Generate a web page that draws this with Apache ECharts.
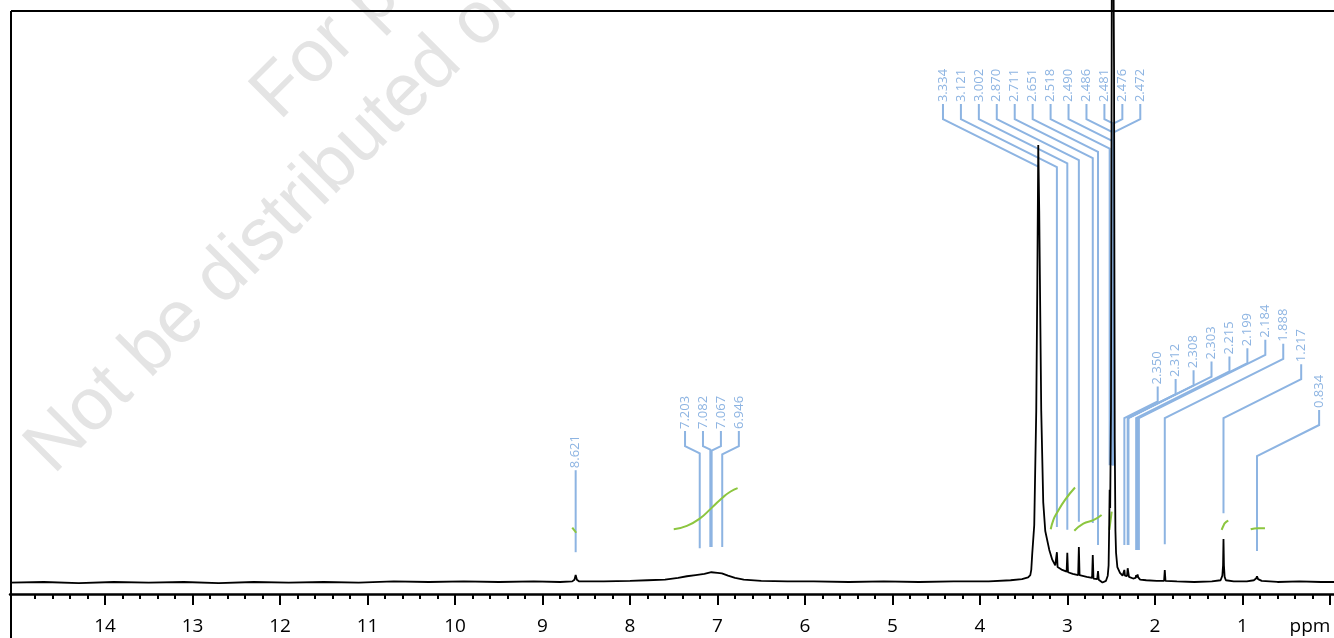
<!DOCTYPE html>
<html>
<head>
<meta charset="utf-8">
<script src="https://cdn.jsdelivr.net/npm/echarts/dist/echarts.min.js"></script>
<style>
  html, body { margin: 0; padding: 0; background: #fff; }
  #main { width: 1334px; height: 638px; }
</style>
</head>
<body>
<div id="main"></div>
<script>
const chart = echarts.init(document.getElementById('main'))

// 1H spectrum, [ppm, intensity]
const spectrum = [
  [15.086, 0.0], [14.7, 0.1], [14.3, -0.1], [13.9, 0.1], [13.5, 0.0], [13.1, 0.1], [12.7, -0.1],
  [12.3, 0.1], [11.9, 0.0], [11.5, 0.1], [11.1, 0.0], [10.7, 0.2], [10.3, 0.1], [9.9, 0.2],
  [9.5, 0.1], [9.1, 0.2], [8.8, 0.1], [8.66, 0.2], [8.635, 0.5], [8.621, 1.3], [8.607, 0.5],
  [8.58, 0.2], [8.3, 0.2], [8.0, 0.3], [7.8, 0.4], [7.6, 0.5], [7.45, 0.8], [7.35, 1.1],
  [7.25, 1.3], [7.15, 1.5], [7.07, 1.8], [7.0, 1.7], [6.95, 1.6], [6.88, 1.2], [6.8, 0.8],
  [6.7, 0.5], [6.5, 0.3], [6.2, 0.2], [5.9, 0.2], [5.5, 0.1], [5.1, 0.2], [4.7, 0.1],
  [4.3, 0.2], [3.9, 0.2], [3.65, 0.4], [3.52, 0.6], [3.45, 0.9],
  [3.425, 1.3], [3.414, 2.2], [3.403, 5], [3.38, 10], [3.357, 30], [3.345, 52], [3.334, 76.4],
  [3.323, 65], [3.30, 30], [3.277, 14], [3.254, 9], [3.208, 5.7], [3.174, 4.0], [3.14, 3.0],
  [3.129, 2.8], [3.121, 5.3], [3.113, 2.7], [3.06, 2.2], [3.01, 1.9], [3.002, 5.2], [2.994, 1.8],
  [2.94, 1.5], [2.878, 1.3], [2.870, 6.2], [2.862, 1.3], [2.78, 1.0], [2.719, 0.8], [2.711, 4.8],
  [2.703, 0.7], [2.66, 0.6], [2.651, 2.0], [2.643, 0.5], [2.60, 0.0], [2.56, 0.3],
  [2.54, 1.2], [2.53, 3], [2.524, 9], [2.518, 16.2], [2.512, 13], [2.503, 30], [2.495, 90],
  [2.49, 150], [2.482, 150], [2.475, 150], [2.468, 90], [2.46, 25], [2.452, 9], [2.445, 5.2],
  [2.43, 2.7], [2.40, 1.7], [2.37, 1.2], [2.357, 1.3], [2.350, 2.2], [2.343, 1.2], [2.32, 1.1],
  [2.312, 2.5], [2.305, 2.3], [2.297, 1.0], [2.25, 0.7], [2.222, 0.8], [2.215, 1.3], [2.207, 0.9],
  [2.199, 1.4], [2.191, 0.9], [2.184, 1.2], [2.17, 0.5], [2.1, 0.4], [1.98, 0.3], [1.896, 0.3],
  [1.888, 2.2], [1.88, 0.3], [1.75, 0.2], [1.55, 0.1], [1.35, 0.2], [1.25, 0.4], [1.23, 1.2],
  [1.222, 3], [1.217, 7.6], [1.212, 3], [1.204, 1.0], [1.19, 0.4], [1.1, 0.2], [0.95, 0.2],
  [0.87, 0.4], [0.845, 0.7], [0.834, 1.1], [0.822, 0.6], [0.78, 0.3], [0.6, 0.1], [0.35, 0.2],
  [0.1, 0.1], [-0.046, 0.1]
]

// integral curves
const integral1 = [[8.66, 9.6], [8.615, 8.7]]
const integral2 = [[7.50, 9.3], [7.35, 9.9], [7.2, 11.2], [7.07, 13.0], [6.93, 15.0], [6.85, 15.9], [6.77, 16.5]]
const integral3 = [[3.192, 9.3], [3.16, 11.0], [3.123, 12.1], [3.03, 14.4], [2.914, 16.6]]
const integral4 = [[2.922, 9.05], [2.819, 10.3], [2.705, 10.9], [2.61, 11.8]]
const integral5 = [[2.522, 9.2], [2.507, 10.9], [2.495, 12.4]]
const integral6 = [[1.238, 9.2], [1.215, 10.0], [1.2, 10.4], [1.162, 10.8]]
const integral7 = [[0.906, 9.3], [0.82, 9.5], [0.743, 9.5]]

// peak picking: shift and the height where the leader line stops
const peakPpm = [8.621, 7.203, 7.082, 7.067, 6.946, 3.334, 3.121, 3.002, 2.870, 2.711, 2.651,
  2.518, 2.490, 2.486, 2.481, 2.476, 2.472, 2.350, 2.312, 2.308, 2.303, 2.215, 2.199, 2.184,
  1.888, 1.217, 0.834]
const peakEnd = [5.3, 6.0, 6.2, 6.2, 6.2, 76, 9.7, 9.2, 10.6, 10.4, 6.55,
  20.5, 20.5, 20.5, 20.5, 20.5, 20.5, 6.55, 6.55, 6.55, 6.55, 5.7, 5.7, 5.7,
  6.7, 12.1, 5.5]

// label layout: first text position (ppm), knee height, knee type (0 = end of stub, 1 = end of slant)
const labelGroups = [
  { from: 0, to: 0, textStart: 8.621, knee: 17.0, mode: 0 },
  { from: 1, to: 4, textStart: 7.371, knee: 23.84, mode: 0 },
  { from: 5, to: 16, textStart: 4.423, knee: 80.95, mode: 0 },
  { from: 17, to: 25, textStart: 1.969, knee: 28.73, mode: 1 },
  { from: 26, to: 26, textStart: 0.124, knee: 22.09, mode: 1 }
]
const labelStep = 0.205
const blue = '#8DB4E2'
const green = '#8CC63F'

let labelData = []
labelGroups.forEach((g) => {
  for (let i = g.from; i <= g.to; i++) {
    labelData.push([peakPpm[i], g.textStart - (i - g.from) * labelStep, g.knee, peakEnd[i], g.mode, i])
  }
})

function renderLabel(params, api) {
  let peak = api.coord([api.value(0), api.value(3)])
  let knee = api.coord([api.value(1), api.value(2)])
  let tx = knee[0]
  let px = peak[0]
  let drop = Math.abs(px - tx) * 0.5
  let stubEnd, slantEnd
  if (api.value(4) === 0) {
    stubEnd = knee[1]
    slantEnd = knee[1] + drop
  } else {
    slantEnd = knee[1]
    stubEnd = knee[1] - drop
  }
  let stubTop = stubEnd - 15
  let pts = [[tx, stubTop], [tx, stubEnd], [px, slantEnd]]
  if (peak[1] > slantEnd) pts.push([px, peak[1]])
  return {
    type: 'group',
    children: [
      { type: 'polyline', shape: { points: pts }, style: { stroke: blue, lineWidth: 2, fill: null } },
      {
        type: 'text', x: tx, y: stubTop - 2, rotation: Math.PI / 2,
        style: { text: peakPpm[api.value(5)].toFixed(3), fill: blue, font: '13px "Open Sans"', align: 'left', verticalAlign: 'middle' }
      }
    ]
  }
}

let integralSeries = [integral1, integral2, integral3, integral4, integral5, integral6, integral7].map((d) => ({
  type: 'line',
  data: d,
  smooth: 0.5,
  showSymbol: false,
  clip: false,
  z: 3,
  lineStyle: { color: green, width: 2 },
  xAxisIndex: 0,
  yAxisIndex: 0
}))

let option = {
  animation: false,
  backgroundColor: '#fff',
  grid: [
    { left: 10, right: 0, top: 10, bottom: 44 },
    { left: 35, right: 4, top: 10, bottom: 44 },
    { left: 105, right: 4, top: 10, bottom: 44 }
  ],
  xAxis: [
    {
      type: 'value', gridIndex: 0, min: -0.046, max: 15.086, inverse: true,
      axisLine: { show: true, onZero: false, lineStyle: { color: '#000', width: 2.5 } },
      axisTick: { show: false }, axisLabel: { show: false }, splitLine: { show: false }
    },
    {
      type: 'value', gridIndex: 1, min: 0, max: 14.8, interval: 0.2, inverse: true,
      axisLine: { show: false, onZero: false },
      axisTick: { show: true, length: 5, lineStyle: { color: '#000', width: 2 } },
      axisLabel: { show: false }, splitLine: { show: false }
    },
    {
      type: 'value', gridIndex: 2, min: 0, max: 14, interval: 1, inverse: true,
      axisLine: { show: false, onZero: false },
      axisTick: { show: true, length: 11, lineStyle: { color: '#000', width: 2 } },
      axisLabel: {
        show: true, margin: 23, color: '#000', fontSize: 19, fontFamily: 'Open Sans',
        formatter: (v) => v === 0 ? '{u|ppm}' : String(v),
        rich: { u: { fontSize: 19, fontFamily: 'Open Sans', color: '#000', padding: [0, 40, 0, 0] } }
      },
      splitLine: { show: false }
    }
  ],
  yAxis: [
    { type: 'value', gridIndex: 0, min: -2, max: 100, show: false },
    { type: 'value', gridIndex: 1, show: false },
    { type: 'value', gridIndex: 2, show: false }
  ],
  graphic: [
    {
      type: 'text', x: 54, y: 476, rotation: Math.PI / 4, z: 0, silent: true,
      style: { x: 0, y: 16, text: 'Not be distributed or modified', font: '74px "Liberation Sans"', fill: '#e4e4e4', verticalAlign: 'bottom' }
    },
    {
      type: 'text', x: 280, y: 122, rotation: Math.PI / 4, z: 0, silent: true,
      style: { x: 0, y: 16, text: 'For personal use only', font: '74px "Liberation Sans"', fill: '#e4e4e4', verticalAlign: 'bottom' }
    },
    { type: 'line', z: 10, shape: { x1: 11, y1: 11, x2: 1334, y2: 11 }, style: { stroke: '#000', lineWidth: 2 } },
    { type: 'line', z: 10, shape: { x1: 11, y1: 11, x2: 11, y2: 638 }, style: { stroke: '#000', lineWidth: 2 } }
  ],
  series: [
    {
      type: 'custom',
      coordinateSystem: 'cartesian2d',
      xAxisIndex: 0,
      yAxisIndex: 0,
      renderItem: renderLabel,
      data: labelData,
      encode: { x: 0, y: 3 },
      z: 2,
      silent: true
    },
    ...integralSeries,
    {
      type: 'line',
      data: spectrum,
      showSymbol: false,
      clip: false,
      z: 4,
      lineStyle: { color: '#000', width: 1.8 },
      xAxisIndex: 0,
      yAxisIndex: 0
    }
  ]
}
chart.setOption(option)
</script>
</body>
</html>
